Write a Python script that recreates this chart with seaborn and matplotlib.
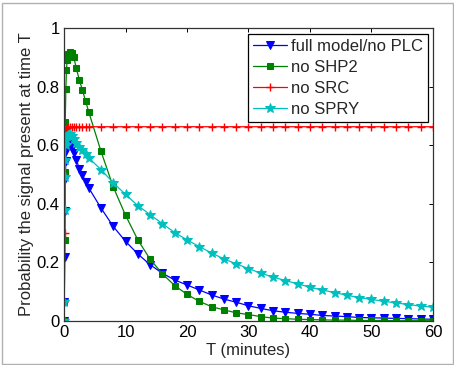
import numpy as np
import pandas as pd
import matplotlib
matplotlib.use('Agg')
import matplotlib.pyplot as plt
from matplotlib.patches import Rectangle
import seaborn as sns

# time points (minutes), dense at the start where the solver stepped finely
T = [0, 0.05, 0.1, 0.15, 0.2, 0.3, 0.4, 0.5, 0.7, 1.0, 1.3, 1.6, 2.0, 2.5, 3.0, 3.5, 4,
     6, 8, 10, 12, 14, 16, 18, 20, 22, 24, 26, 28, 30,
     32, 34, 36, 38, 40, 42, 44, 46, 48, 50, 52, 54, 56, 58, 60]

full_model = [0, 0.066, 0.22, 0.374, 0.483, 0.546, 0.58, 0.595, 0.603, 0.60, 0.59, 0.575, 0.55, 0.52, 0.50, 0.475, 0.455,
              0.386, 0.323, 0.272, 0.229, 0.192, 0.163, 0.14, 0.123, 0.106, 0.089, 0.075, 0.064, 0.052,
              0.043, 0.035, 0.030, 0.026, 0.023, 0.019, 0.017, 0.015, 0.012, 0.011, 0.010, 0.009, 0.008, 0.007, 0.006]

no_shp2 = [0, 0.066, 0.277, 0.507, 0.679, 0.793, 0.857, 0.89, 0.912, 0.918, 0.915, 0.90, 0.862, 0.822, 0.788, 0.751, 0.715,
           0.58, 0.458, 0.361, 0.277, 0.211, 0.161, 0.121, 0.091, 0.067, 0.049, 0.038, 0.028, 0.022,
           0.015, 0.010, 0.008, 0.006, 0.005, 0.004, 0.003, 0.003, 0.002, 0.002, 0.002, 0.001, 0.001, 0.001, 0.001]

no_src = [0, 0.066, 0.30, 0.50, 0.60, 0.645, 0.655, 0.66, 0.662, 0.663, 0.663, 0.663, 0.663, 0.663, 0.663, 0.663, 0.663,
          0.663, 0.663, 0.663, 0.663, 0.663, 0.663, 0.663, 0.663, 0.663, 0.663, 0.663, 0.663, 0.663,
          0.663, 0.663, 0.663, 0.663, 0.663, 0.663, 0.663, 0.663, 0.663, 0.663, 0.663, 0.663, 0.663, 0.663, 0.663]

no_spry = [0, 0.066, 0.38, 0.49, 0.55, 0.60, 0.62, 0.63, 0.636, 0.637, 0.632, 0.622, 0.608, 0.595, 0.582, 0.57, 0.557,
           0.517, 0.472, 0.432, 0.394, 0.363, 0.332, 0.302, 0.277, 0.254, 0.232, 0.212, 0.195, 0.179,
           0.163, 0.150, 0.138, 0.127, 0.115, 0.106, 0.097, 0.088, 0.080, 0.074, 0.067, 0.062, 0.056, 0.051, 0.047]

labels = ['full model/no PLC', 'no SHP2', 'no SRC', 'no SPRY']
series = [full_model, no_shp2, no_src, no_spry]

sns.set_style('white')
plt.rcParams['font.family'] = ['Liberation Sans', 'DejaVu Sans']
plt.rcParams['font.size'] = 12

# one table, long format
df = pd.concat([pd.DataFrame({'T': T, 'P': s, 'case': lab}) for s, lab in zip(series, labels)])

fig = plt.figure(figsize=(4.54, 3.65), dpi=100)
ax = fig.add_axes([0.141, 0.1205, 0.8127, 0.8028])

styles = {
    'full model/no PLC': dict(color='#0000ff', marker='v', markersize=6),
    'no SHP2': dict(color='#008000', marker='s', markersize=4.5),
    'no SRC': dict(color='#ff0000', marker='+', markersize=6, markeredgewidth=1),
    'no SPRY': dict(color='#00bfbf', marker='*', markersize=7.5),
}

for lab in labels:
    st = styles[lab]
    sns.lineplot(data=df[df['case'] == lab], x='T', y='P', ax=ax, label=lab,
                 linewidth=0.9, markeredgecolor=st['color'], **st)

ax.set_xlim(0, 60)
ax.set_ylim(0, 1)
ax.set_xticks([0, 10, 20, 30, 40, 50, 60])
ax.set_yticks([0, 0.2, 0.4, 0.6, 0.8, 1])
ax.set_yticklabels(['0', '0.2', '0.4', '0.6', '0.8', '1'])
ax.set_xlabel('T (minutes)', fontsize=12, labelpad=2)
ax.set_ylabel('Probability the signal present at time T', fontsize=12, labelpad=2)
ax.tick_params(direction='in', top=True, right=True, length=2.7, width=0.7,
               labelsize=12, pad=3, colors='black')
for sp in ax.spines.values():
    sp.set_color('#333333')
    sp.set_linewidth(0.9)

leg = ax.legend(loc='upper right', bbox_to_anchor=(0.9864, 0.9795), borderaxespad=0,
                fancybox=False, framealpha=1, edgecolor='black', fontsize=12,
                handlelength=2.0, handletextpad=0.25, borderpad=0.3, labelspacing=0.35)
leg.get_frame().set_linewidth(0.9)

# light grey frame round the figure
fig.patches.append(Rectangle((1.5 / 454, 1.5 / 365), 451 / 454, 361 / 365, transform=fig.transFigure,
                             fill=False, edgecolor='#b0b0b0', linewidth=1))

fig.savefig('out.png', dpi=100)
